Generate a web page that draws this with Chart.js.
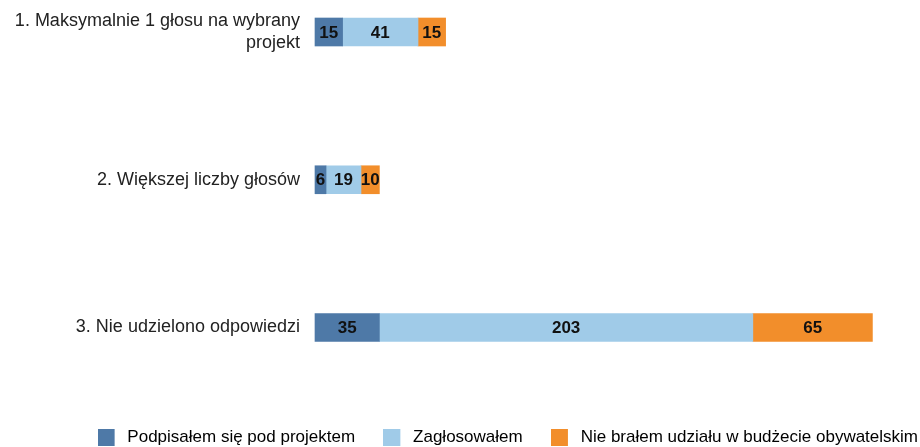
<!DOCTYPE html>
<html>
<head>
<meta charset="utf-8">
<script src="https://cdn.jsdelivr.net/npm/chart.js@4"></script>
<style>
  html, body { margin: 0; padding: 0; background: #fff; overflow: hidden; }
  /* szerzej niż okno: legenda w oryginale wychodzi do samej krawędzi */
  #wrap { position: relative; width: 946px; height: 456px; }
</style>
</head>
<body>
<div id="wrap"><canvas id="chart"></canvas></div>
<script>
// kategorie (oś Y)
const categories = [
  ["1. Maksymalnie 1 głosu na wybrany", "projekt"],
  "2. Większej liczby głosów",
  "3. Nie udzielono odpowiedzi"
];

// serie
const seriesNames = [
  "Podpisałem się pod projektem",
  "Zagłosowałem",
  "Nie brałem udziału w budżecie obywatelskim"
];
const podpisalem   = [15, 6, 35];
const zaglosowalem = [41, 19, 203];
const nieBralem    = [15, 10, 65];

const colors = ["#4E79A7", "#A0CBE8", "#F28E2B"];

const FONT = "'Liberation Sans', Arial, sans-serif";

// kwadracik legendy z odstępem po prawej (17px + przerwa)
function swatch(color) {
  const c = document.createElement("canvas");
  c.width = 21; c.height = 17;
  const g = c.getContext("2d");
  g.fillStyle = color;
  g.fillRect(0, 0, 17, 17);
  return c;
}

// etykiety wartości w środku słupków
const barLabels = {
  id: "barLabels",
  afterDatasetsDraw(chart) {
    const ctx = chart.ctx;
    ctx.save();
    ctx.font = "bold 17px " + FONT;
    ctx.fillStyle = "#111";
    ctx.textAlign = "center";
    ctx.textBaseline = "middle";
    chart.data.datasets.forEach((ds, i) => {
      chart.getDatasetMeta(i).data.forEach((bar, j) => {
        const p = bar.getProps(["x", "y", "base"], true);
        ctx.fillText(String(ds.data[j]), (p.x + p.base) / 2, p.y + 1);
      });
    });
    ctx.restore();
  }
};

const seriesData = [podpisalem, zaglosowalem, nieBralem];
const datasets = seriesNames.map((name, i) => ({
  label: name,
  data: seriesData[i],
  backgroundColor: colors[i],
  borderWidth: 0,
  barThickness: 28,
  clip: false
}));

new Chart(document.getElementById("chart").getContext("2d"), {
  type: "bar",
  data: { labels: categories, datasets },
  options: {
    indexAxis: "y",
    responsive: true,
    maintainAspectRatio: false,
    animation: false,
    layout: { padding: { top: 32, left: 0, right: 0, bottom: 0 } },
    scales: {
      x: {
        stacked: true,
        min: 0,
        max: 343,
        grid: { display: false },
        border: { display: false },
        ticks: { display: false },
        // pusta przestrzeń między słupkami a legendą
        afterFit(scale) { scale.height = 73.5; }
      },
      y: {
        stacked: true,
        offset: false,
        grid: { display: false, drawTicks: false },
        border: { display: false },
        ticks: {
          padding: 15,
          color: "#222",
          font: { family: FONT, size: 18, lineHeight: 1.2 }
        },
        afterFit(scale) { scale.width = 315; }
      }
    },
    plugins: {
      tooltip: { enabled: false },
      legend: {
        position: "bottom",
        align: "end",
        labels: {
          usePointStyle: true,
          pointStyleWidth: 21.5,
          boxHeight: 17,
          padding: 28,
          color: "#222",
          font: { family: FONT, size: 17 },
          generateLabels: (chart) => chart.data.datasets.map((ds, i) => ({
            text: ds.label,
            pointStyle: swatch(ds.backgroundColor),
            fillStyle: ds.backgroundColor,
            strokeStyle: ds.backgroundColor,
            lineWidth: 0,
            hidden: false,
            datasetIndex: i
          }))
        }
      }
    }
  },
  plugins: [barLabels]
});
</script>
</body>
</html>
